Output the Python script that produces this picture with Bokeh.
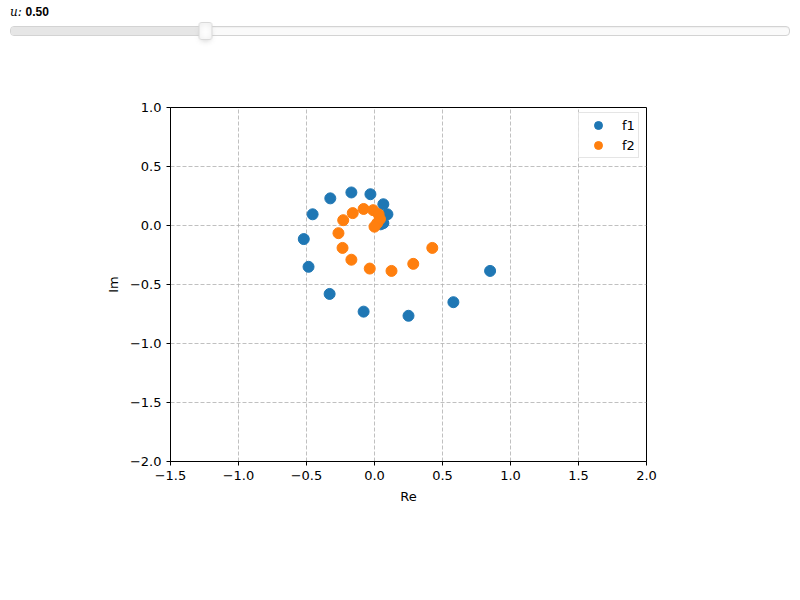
from bokeh.plotting import figure
from bokeh.models import Slider, Legend, LegendItem, CustomJSTickFormatter, FixedTicker, Range1d, ColumnDataSource, InlineStyleSheet
from bokeh.layouts import column
from bokeh.embed import file_html
from bokeh.resources import INLINE

# data (u = 0.50)
f1_re = [0.85, 0.58, 0.25, -0.08, -0.33, -0.485, -0.52, -0.455, -0.325, -0.17, -0.03, 0.065, 0.095, 0.065, 0.045]
f1_im = [-0.385, -0.65, -0.765, -0.73, -0.58, -0.35, -0.115, 0.095, 0.23, 0.28, 0.265, 0.18, 0.095, 0.02, 0.01]
f2_re = [0.425, 0.285, 0.125, -0.035, -0.17, -0.235, -0.265, -0.23, -0.16, -0.08, -0.01, 0.03, 0.04, 0.02, 0.0]
f2_im = [-0.19, -0.325, -0.385, -0.365, -0.29, -0.19, -0.065, 0.045, 0.105, 0.14, 0.13, 0.095, 0.055, 0.02, -0.01]
x_ticks = [-1.5, -1.0, -0.5, 0.0, 0.5, 1.0, 1.5, 2.0]
y_ticks = [-2.0, -1.5, -1.0, -0.5, 0.0, 0.5, 1.0]
u_value = 0.5

FONT = "DejaVu Sans"

css = InlineStyleSheet(css="""
.bk-slider-title { font-family: 'DejaVu Serif', serif; font-style: italic; }
.bk-slider-value { font-family: 'Liberation Sans', Arial, sans-serif; font-style: normal; font-weight: bold; }
""")
slider = Slider(start=0, end=2, value=u_value, step=0.01, title="u", width=780,
                margin=(4, 0, 0, 10), stylesheets=[css])

p = figure(width=784, height=465, output_backend="svg", toolbar_location=None,
           x_range=Range1d(-1.5, 2.0), y_range=Range1d(-2.0, 1.0),
           min_border_left=170, min_border_right=138, min_border_top=66, min_border_bottom=44)
p.background_fill_color = "white"
p.border_fill_color = "white"
p.outline_line_color = "black"
p.outline_line_width = 1

fmt = CustomJSTickFormatter(code="return tick.toFixed(1).replace('-', '\\u2212');")
for ax, ticks, lbl in ((p.xaxis[0], x_ticks, "Re"), (p.yaxis[0], y_ticks, "Im")):
    ax.ticker = FixedTicker(ticks=ticks)
    ax.formatter = fmt
    ax.axis_label = lbl
    ax.axis_label_text_font = FONT
    ax.axis_label_text_font_style = "normal"
    ax.axis_label_text_font_size = "13px"
    ax.axis_label_text_color = "black"
    ax.major_label_text_font = FONT
    ax.major_label_text_font_size = "13px"
    ax.major_label_text_color = "black"
    ax.axis_line_color = "black"
    ax.major_tick_line_color = "black"
    ax.major_tick_out = 4
    ax.major_tick_in = 0
    ax.minor_tick_line_color = None
    ax.axis_label_standoff = 6

p.xgrid.ticker = FixedTicker(ticks=x_ticks)
p.ygrid.ticker = FixedTicker(ticks=y_ticks)
for g in (p.xgrid[0], p.ygrid[0]):
    g.grid_line_color = "#b0b0b0"
    g.grid_line_dash = "4 2"
    g.grid_line_width = 0.8

s1 = ColumnDataSource(dict(x=f1_re, y=f1_im))
s2 = ColumnDataSource(dict(x=f2_re, y=f2_im))
r1 = p.scatter("x", "y", source=s1, size=11, color="#1f77b4")
r2 = p.scatter("x", "y", source=s2, size=11, color="#ff7f0e")

legend = Legend(items=[LegendItem(label="f1", renderers=[r1]), LegendItem(label="f2", renderers=[r2])],
                location=(408, 303), label_text_font=FONT, label_text_font_size="13px",
                label_text_color="black",
                border_line_color="#cccccc", border_line_width=1, background_fill_alpha=0.8,
                glyph_width=34, glyph_height=20, spacing=0, padding=2, margin=0,
                label_standoff=7, label_width=14)
p.add_layout(legend)

layout = column(slider, p, spacing=0)
open("out.html", "w").write(file_html(layout, INLINE))
